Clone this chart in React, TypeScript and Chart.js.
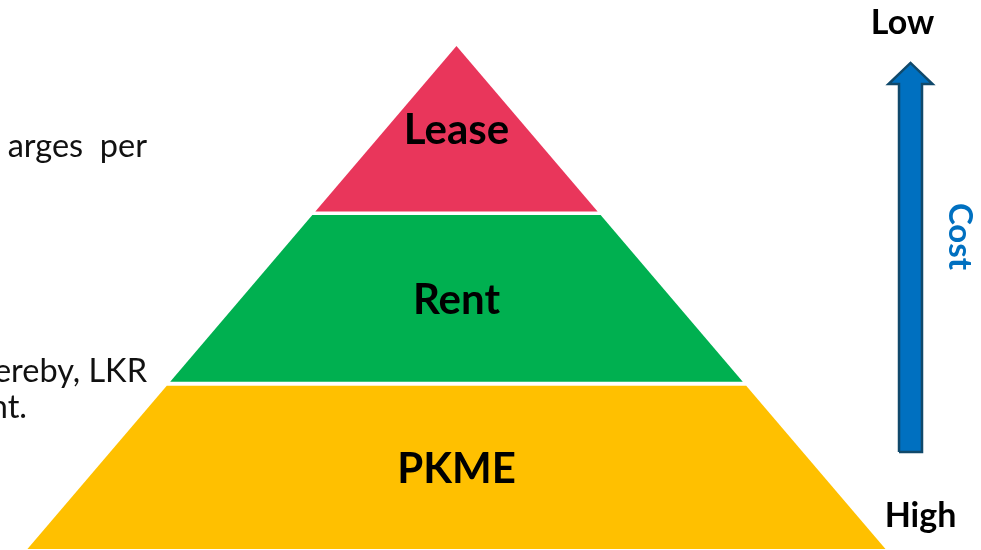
import React, { useEffect, useRef } from "react";
import { Chart, registerables } from "chart.js";

Chart.register(...registerables);

// Pyramid levels, bottom to top (level heights in pyramid units, apex at 3)
const levels = ["PKME", "Rent", "Lease"];
const levelBottoms = [0, 0.998, 2.013];
const levelTops = [0.974, 1.992, 3];
const levelColors = ["#FFC000", "#00B050", "#E9365B"];
const apexHeight = 3;
const baseHalfWidth = 1;

// Cost arrow (same units)
const costTitle = "Cost";
const costEnds = ["Low", "High"];
const arrowCenter = [1.0583];
const arrowLevels = [0.5785, 2.773, 2.8986]; // shaft bottom, head base, tip
const arrowHalfWidths = [0.0268, 0.0513]; // shaft, head

// Fragments of side text (cut off on the left in the original)
const sideText = ["arges  per", "ereby, LKR", "nt."];

const FONT = "Lato, 'Open Sans', sans-serif";

function halfWidthAt(y: number) {
  return ((apexHeight - y) / apexHeight) * baseHalfWidth;
}

function levelPolygon(i: number) {
  const b = levelBottoms[i];
  const t = levelTops[i];
  const hb = halfWidthAt(b);
  const ht = halfWidthAt(t);
  const pts = [
    { x: -hb, y: b },
    { x: hb, y: b },
    { x: ht, y: t },
  ];
  if (ht > 0) pts.push({ x: -ht, y: t });
  pts.push({ x: -hb, y: b });
  return pts;
}

function arrowPolygon() {
  const cx = arrowCenter[0];
  const [bottom, headBase, tip] = arrowLevels;
  const [sw, hw] = arrowHalfWidths;
  return [
    { x: cx - sw, y: bottom },
    { x: cx + sw, y: bottom },
    { x: cx + sw, y: headBase },
    { x: cx + hw, y: headBase },
    { x: cx, y: tip },
    { x: cx - hw, y: headBase },
    { x: cx - sw, y: headBase },
    { x: cx - sw, y: bottom },
  ];
}

const textPlugin = {
  id: "pyramidText",
  afterDatasetsDraw(chart: any) {
    const { ctx, scales } = chart;
    const xs = scales.x;
    const ys = scales.y;
    ctx.save();
    ctx.fillStyle = "#000";
    ctx.textAlign = "center";
    ctx.textBaseline = "middle";
    // level labels
    levels.forEach((name, i) => {
      const mid = (levelBottoms[i] + levelTops[i]) / 2;
      ctx.font = `bold 42px ${FONT}`;
      ctx.fillText(name, xs.getPixelForValue(0), ys.getPixelForValue(mid) + 2);
    });
    // Low / High
    const ax = xs.getPixelForValue(arrowCenter[0]);
    ctx.font = `bold 34px ${FONT}`;
    ctx.textBaseline = "alphabetic";
    ctx.fillText(costEnds[0], ax - 8, 34);
    ctx.fillText(costEnds[1], ax + 10, 527);
    // Cost (rotated)
    ctx.save();
    ctx.translate(960, 236.5);
    ctx.rotate(Math.PI / 2);
    ctx.fillStyle = "#0070C0";
    ctx.font = `bold 33px ${FONT}`;
    ctx.textBaseline = "middle";
    ctx.fillText(costTitle, 0, 0);
    ctx.restore();
    // side text
    ctx.font = `32.5px ${FONT}`;
    ctx.fillStyle = "#111";
    ctx.textAlign = "right";
    ctx.fillText(sideText[0], 147, 157);
    ctx.fillText(sideText[1], 147, 382);
    ctx.fillText(sideText[2], 27, 418);
    ctx.restore();
  },
};

export default function App() {
  const ref = useRef<HTMLCanvasElement | null>(null);
  useEffect(() => {
    document.body.style.margin = "0";
    const canvas = ref.current;
    if (!canvas) return;
    const datasets: any[] = levels.map((name, i) => ({
      label: name,
      data: levelPolygon(i),
      showLine: true,
      fill: "shape",
      backgroundColor: levelColors[i],
      borderColor: levelColors[i],
      borderWidth: 0,
      pointRadius: 0,
      tension: 0,
    }));
    datasets.push({
      label: costTitle,
      data: arrowPolygon(),
      showLine: true,
      fill: "shape",
      backgroundColor: "#0070C0",
      borderColor: "#10496B",
      borderWidth: 2.5,
      pointRadius: 0,
      tension: 0,
    });
    const chart = new Chart(canvas, {
      type: "scatter",
      data: { datasets },
      options: {
        responsive: false,
        animation: false,
        layout: { padding: 0 },
        plugins: { legend: { display: false }, tooltip: { enabled: false } },
        scales: {
          x: { type: "linear", display: false, min: -1.064, max: 1.2226 },
          y: { type: "linear", display: false, min: -0.006, max: 3.274 },
        },
      },
      plugins: [textPlugin],
    });
    return () => chart.destroy();
  }, []);
  return (
    <div style={{ width: 981, height: 550, background: "#fff" }}>
      <canvas ref={ref} width={981} height={550} style={{ display: "block" }} />
    </div>
  );
}
